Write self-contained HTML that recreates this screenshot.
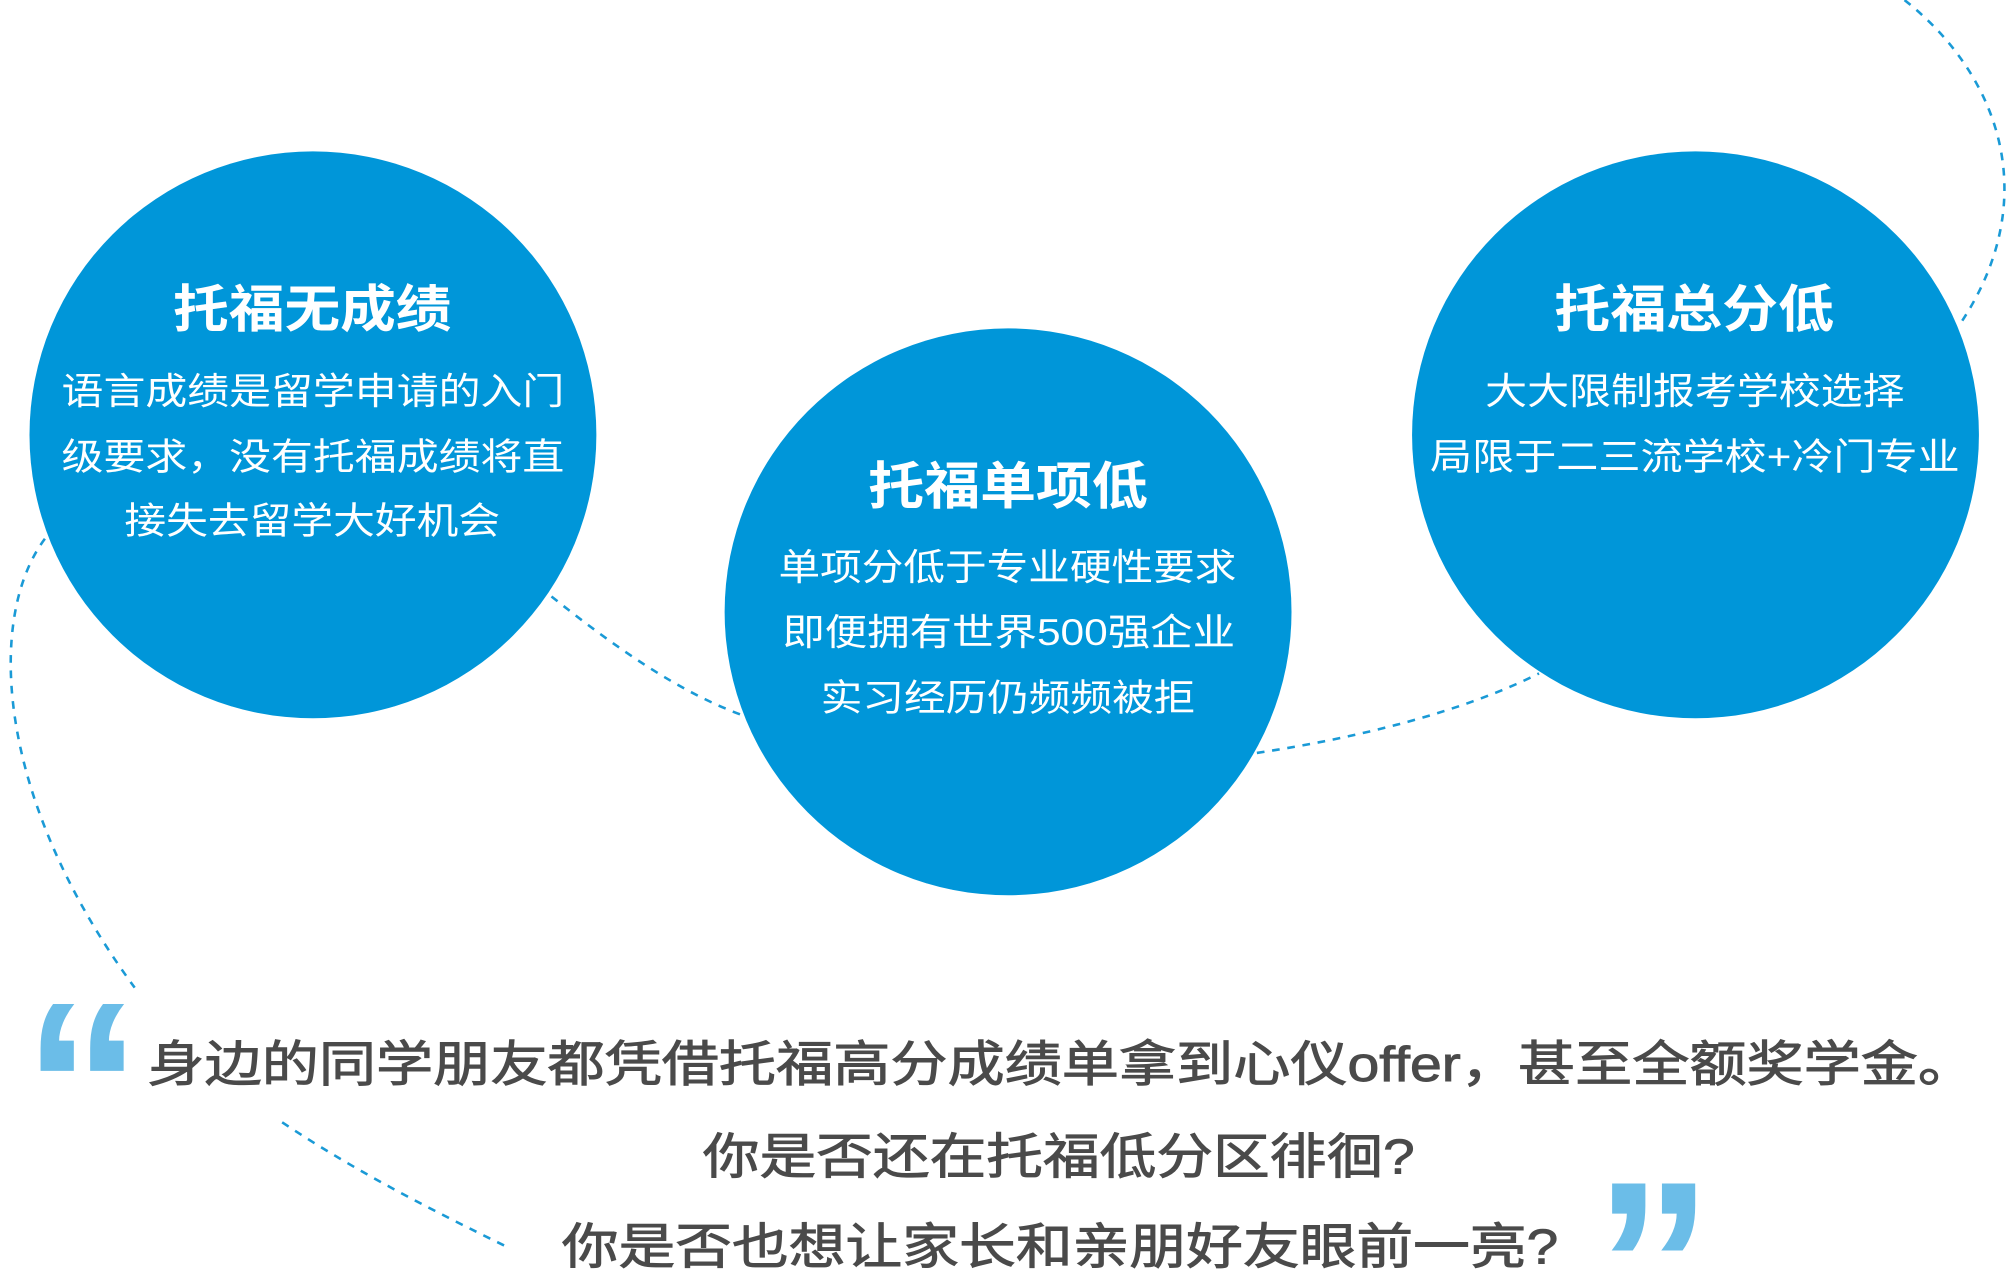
<!DOCTYPE html>
<html><head><meta charset="utf-8"><style>
html,body{margin:0;padding:0;background:#fff;width:2011px;height:1275px;overflow:hidden;}
svg{display:block;overflow:hidden;}
text{font-family:"Liberation Sans","Noto Sans CJK SC",sans-serif;}
</style></head><body>
<svg width="2011" height="1275" viewBox="0 0 1568 994" xmlns="http://www.w3.org/2000/svg">
<g fill="none" stroke="#1a9ad6" stroke-width="2" stroke-dasharray="6,6">
<path d="M1485,0 C1555,55 1595,150 1530,250"/>
<path d="M35,420 C-10,480 -5,620 105,770"/>
<path d="M430,465 C480,505 530,540 580,558"/>
<path d="M980,587 C1060,575 1140,555 1200,525"/>
<path d="M220,875 C280,915 340,945 395,972"/>
</g>
<g fill="#0096d9">
<circle cx="244" cy="339" r="221"/>
<circle cx="786" cy="477" r="221"/>
<circle cx="1322" cy="339" r="221"/>
</g>
<g fill="#fff">
<text x="135" y="255" font-size="40" font-weight="bold" textLength="217" lengthAdjust="spacingAndGlyphs">托福无成绩</text>
<text x="48" y="315" font-size="29" textLength="392" lengthAdjust="spacingAndGlyphs">语言成绩是留学申请的入门</text>
<text x="48" y="366" font-size="29" textLength="392" lengthAdjust="spacingAndGlyphs">级要求，没有托福成绩将直</text>
<text x="97" y="416" font-size="29" textLength="293" lengthAdjust="spacingAndGlyphs">接失去留学大好机会</text>
<text x="677" y="393" font-size="40" font-weight="bold" textLength="218" lengthAdjust="spacingAndGlyphs">托福单项低</text>
<text x="607" y="452" font-size="29" textLength="357" lengthAdjust="spacingAndGlyphs">单项分低于专业硬性要求</text>
<text x="610" y="503" font-size="29" textLength="353" lengthAdjust="spacingAndGlyphs">即便拥有世界500强企业</text>
<text x="640" y="554" font-size="29" textLength="292" lengthAdjust="spacingAndGlyphs">实习经历仍频频被拒</text>
<text x="1212" y="255" font-size="40" font-weight="bold" textLength="218" lengthAdjust="spacingAndGlyphs">托福总分低</text>
<text x="1158" y="315" font-size="29" textLength="327" lengthAdjust="spacingAndGlyphs">大大限制报考学校选择</text>
<text x="1115" y="366" font-size="29" textLength="413" lengthAdjust="spacingAndGlyphs">局限于二三流学校+冷门专业</text>
</g>
<g fill="#6bbde8" font-family="Liberation Serif,serif" font-weight="bold">
<text x="18" y="910" font-size="185">“</text>
<text x="1243" y="1050" font-size="185">”</text>
</g>
<g fill="#4a4a4a" stroke="#4a4a4a" stroke-width="0.7" font-size="38">
<text x="115" y="843" textLength="1425" lengthAdjust="spacingAndGlyphs">身边的同学朋友都凭借托福高分成绩单拿到心仪offer，甚至全额奖学金。</text>
<text x="548" y="915" textLength="555" lengthAdjust="spacingAndGlyphs">你是否还在托福低分区徘徊?</text>
<text x="438" y="985" textLength="777" lengthAdjust="spacingAndGlyphs">你是否也想让家长和亲朋好友眼前一亮?</text>
</g>
</svg>
</body></html>
